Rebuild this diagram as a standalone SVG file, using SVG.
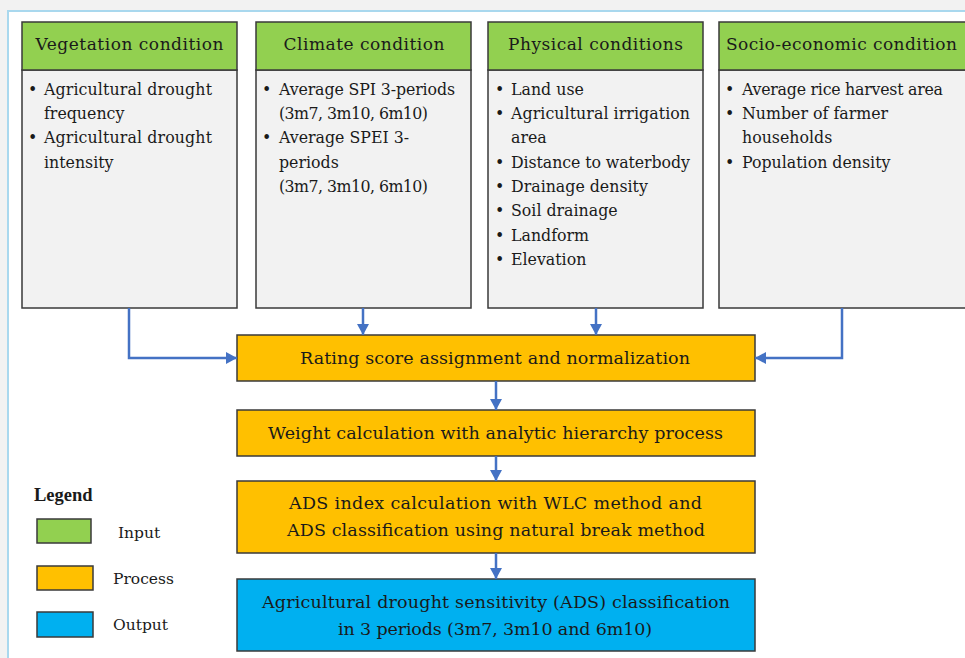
<svg xmlns="http://www.w3.org/2000/svg" width="965" height="658" viewBox="0 0 965 658">
<style>
.hdr{fill:#92d050;stroke:#3a3a3a;stroke-width:1.5}
.body{fill:#f2f2f2;stroke:#3a3a3a;stroke-width:1.5}
.proc{fill:#ffc000;stroke:#3a3a3a;stroke-width:1.5}
.out{fill:#00b0f0;stroke:#3a3a3a;stroke-width:1.5}
text{font-family:"DejaVu Serif","Liberation Serif",serif;fill:#1a1a1a}
.ht{font-size:17px;text-anchor:middle}
.bt{font-size:15.8px}
.pt{font-size:17.5px;text-anchor:middle}
.lg{font-size:15.5px}
.conn{fill:none;stroke:#4472c4;stroke-width:2.5}
</style>
<defs>
<marker id="ah" markerUnits="userSpaceOnUse" markerWidth="12" markerHeight="12" refX="11" refY="6" orient="auto">
<path d="M0,0 L11,6 L0,12 z" fill="#4472c4"/>
</marker>
</defs>
<rect x="0" y="0" width="965" height="658" fill="#f2f2f2"/>
<rect x="8" y="11" width="980" height="670" fill="#ffffff" stroke="#a9d8ee" stroke-width="2"/>

<g id="vegetation">
<rect class="body" x="22" y="70" width="215" height="238"/>
<rect class="hdr" x="22" y="22" width="215" height="48"/>
<text class="ht" x="129.5" y="50" textLength="188">Vegetation condition</text>
<text class="bt" x="28" y="95">•</text><text class="bt" x="44" y="95" textLength="168">Agricultural drought</text>
<text class="bt" x="44" y="119">frequency</text>
<text class="bt" x="28" y="143">•</text><text class="bt" x="44" y="143" textLength="168">Agricultural drought</text>
<text class="bt" x="44" y="168">intensity</text>
</g>

<g id="climate">
<rect class="body" x="256" y="70" width="215" height="238"/>
<rect class="hdr" x="256" y="22" width="215" height="48"/>
<text class="ht" x="364" y="50" textLength="161">Climate condition</text>
<text class="bt" x="262" y="95">•</text><text class="bt" x="279" y="95" textLength="176">Average SPI 3-periods</text>
<text class="bt" x="279" y="119" textLength="149">(3m7, 3m10, 6m10)</text>
<text class="bt" x="262" y="143">•</text><text class="bt" x="279" y="143">Average SPEI 3-</text>
<text class="bt" x="279" y="168">periods</text>
<text class="bt" x="279" y="192" textLength="149">(3m7, 3m10, 6m10)</text>
</g>

<g id="physical">
<rect class="body" x="488" y="70" width="215" height="238"/>
<rect class="hdr" x="488" y="22" width="215" height="48"/>
<text class="ht" x="595.5" y="50" textLength="175">Physical conditions</text>
<text class="bt" x="495" y="95">•</text><text class="bt" x="511" y="95">Land use</text>
<text class="bt" x="495" y="119">•</text><text class="bt" x="511" y="119" textLength="179">Agricultural irrigation</text>
<text class="bt" x="511" y="143">area</text>
<text class="bt" x="495" y="168">•</text><text class="bt" x="511" y="168" textLength="179">Distance to waterbody</text>
<text class="bt" x="495" y="192">•</text><text class="bt" x="511" y="192">Drainage density</text>
<text class="bt" x="495" y="216">•</text><text class="bt" x="511" y="216">Soil drainage</text>
<text class="bt" x="495" y="241">•</text><text class="bt" x="511" y="241">Landform</text>
<text class="bt" x="495" y="265">•</text><text class="bt" x="511" y="265">Elevation</text>
</g>

<g id="socio">
<rect class="body" x="719" y="70" width="260" height="238"/>
<rect class="hdr" x="719" y="22" width="260" height="48"/>
<text class="ht" x="841.5" y="50" textLength="231">Socio-economic condition</text>
<text class="bt" x="725" y="95">•</text><text class="bt" x="742" y="95" textLength="201">Average rice harvest area</text>
<text class="bt" x="725" y="119">•</text><text class="bt" x="742" y="119">Number of farmer</text>
<text class="bt" x="742" y="143">households</text>
<text class="bt" x="725" y="168">•</text><text class="bt" x="742" y="168">Population density</text>
</g>

<g id="rating">
<rect class="proc" x="237" y="335" width="518" height="46"/>
<text class="pt" x="495" y="364" textLength="390">Rating score assignment and normalization</text>
</g>

<g id="weight">
<rect class="proc" x="237" y="410" width="518" height="46"/>
<text class="pt" x="495.5" y="439" textLength="455">Weight calculation with analytic hierarchy process</text>
</g>

<g id="ads">
<rect class="proc" x="237" y="481" width="518" height="72"/>
<text class="pt" x="495.5" y="509" textLength="413">ADS index calculation with WLC method and</text>
<text class="pt" x="496" y="536" textLength="418">ADS classification using natural break method</text>
</g>

<g id="output">
<rect class="out" x="237" y="579" width="518" height="72"/>
<text class="pt" x="496" y="608" textLength="468">Agricultural drought sensitivity (ADS) classification</text>
<text class="pt" x="495" y="635" textLength="314">in 3 periods (3m7, 3m10 and 6m10)</text>
</g>

<g id="connectors">
<polyline class="conn" points="129,308 129,358 237,358" marker-end="url(#ah)"/>
<line class="conn" x1="363" y1="308" x2="363" y2="335" marker-end="url(#ah)"/>
<line class="conn" x1="596" y1="308" x2="596" y2="335" marker-end="url(#ah)"/>
<polyline class="conn" points="842,308 842,358 755,358" marker-end="url(#ah)"/>
<line class="conn" x1="496" y1="381" x2="496" y2="410" marker-end="url(#ah)"/>
<line class="conn" x1="496" y1="456" x2="496" y2="481" marker-end="url(#ah)"/>
<line class="conn" x1="496" y1="553" x2="496" y2="579" marker-end="url(#ah)"/>
</g>

<g id="legend">
<text x="34" y="501" style="font-family:'Liberation Serif',serif;font-weight:bold;font-size:18.5px">Legend</text>
<rect class="hdr" x="37" y="519" width="54" height="24"/>
<text class="lg" x="118" y="538">Input</text>
<rect class="proc" x="37" y="566" width="56" height="24"/>
<text class="lg" x="113" y="584">Process</text>
<rect class="out" x="37" y="612" width="56" height="25"/>
<text class="lg" x="113" y="630">Output</text>
</g>
</svg>
